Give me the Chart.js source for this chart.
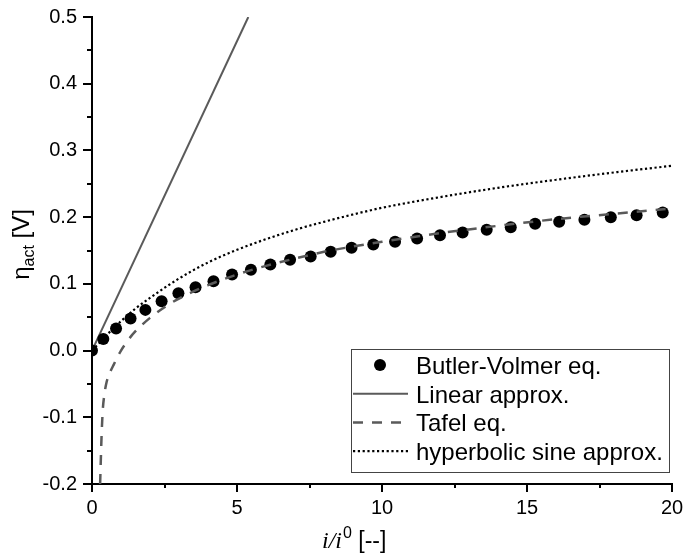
<!DOCTYPE html>
<html>
<head>
<meta charset="utf-8">
<script src="https://cdn.jsdelivr.net/npm/chart.js@4"></script>
<style>
  html, body { margin: 0; padding: 0; background: #fff; }
  #wrap { width: 683px; height: 557px; }
</style>
</head>
<body>
<div id="wrap"><canvas id="etaChart" width="683" height="557"></canvas></div>
<script>
// Activation overpotential vs. normalised current density i/i0

// Butler-Volmer (full equation), markers
const bvX = [0, 0.39, 0.83, 1.33, 1.84, 2.40, 2.98, 3.57, 4.19, 4.83, 5.48, 6.15, 6.83, 7.54, 8.23,
             8.95, 9.70, 10.45, 11.21, 12.0, 12.78, 13.61, 14.44, 15.28, 16.11, 16.98, 17.89, 18.78, 19.68];
const bvY = [0, 0.0175, 0.033, 0.048, 0.061, 0.074, 0.086, 0.095, 0.104, 0.114, 0.121, 0.129, 0.136, 0.141, 0.148,
             0.154, 0.159, 0.163, 0.168, 0.173, 0.177, 0.181, 0.185, 0.190, 0.193, 0.196, 0.200, 0.203, 0.207];

// low-field linear approximation
const linX = [0, 5.39];
const linY = [0, 0.5];

// Tafel equation
const tafelX = [0.28, 0.30, 0.33, 0.37, 0.42, 0.5, 0.6, 0.75, 1, 1.25, 1.5, 2, 2.5, 3, 4, 5,
                6, 7, 8, 9, 10, 12, 14, 16, 18, 20];
const tafelY = [-0.2, -0.17, -0.128, -0.09, -0.068, -0.048, -0.035, -0.021, 0.0, 0.016, 0.029, 0.049, 0.065, 0.078, 0.098, 0.114,
                0.127, 0.138, 0.148, 0.156, 0.163, 0.176, 0.187, 0.197, 0.205, 0.213];

// hyperbolic sine approximation
const sinhX = [0, 0.25, 0.5, 1, 1.5, 2, 3, 4, 5, 6, 7, 8, 9, 10, 12, 14, 16, 18, 20];
const sinhY = [0, 0.0115, 0.023, 0.044, 0.063, 0.079, 0.108, 0.132, 0.151, 0.167, 0.181, 0.193, 0.204, 0.214,
               0.230, 0.244, 0.256, 0.267, 0.277];

// axis ticks
const xMajorTicks = [0, 5, 10, 15, 20];
const xMinorTicks = [2.5, 7.5, 12.5, 17.5];
const yMajorTicks = [-0.2, -0.1, 0.0, 0.1, 0.2, 0.3, 0.4, 0.5];
const yMinorTicks = [-0.15, -0.05, 0.05, 0.15, 0.25, 0.35, 0.45];

const seriesNames = ['Butler-Volmer eq.', 'Linear approx.', 'Tafel eq.', 'hyperbolic sine approx.'];

const SANS = '"Liberation Sans", Arial, sans-serif';
const SERIF = '"Liberation Serif", "Times New Roman", serif';

const pts = (xs, ys) => xs.map((x, i) => ({ x: x, y: ys[i] }));

// tick marks (major + minor) drawn outside the plot area
const tickMarks = {
  id: 'tickMarks',
  afterDraw(chart) {
    const { ctx, chartArea: a, scales } = chart;
    ctx.save();
    ctx.strokeStyle = '#000';
    ctx.lineWidth = 2;
    ctx.beginPath();
    const xt = (v, len) => {
      const px = Math.round(scales.x.getPixelForValue(v));
      ctx.moveTo(px, a.bottom); ctx.lineTo(px, a.bottom + len);
    };
    const yt = (v, len) => {
      const py = Math.round(scales.y.getPixelForValue(v));
      ctx.moveTo(a.left, py); ctx.lineTo(a.left - len, py);
    };
    xMajorTicks.forEach(v => xt(v, 8));
    xMinorTicks.forEach(v => xt(v, 4));
    yMajorTicks.forEach(v => yt(v, 9));
    yMinorTicks.forEach(v => yt(v, 5));
    ctx.stroke();
    ctx.restore();
  }
};

// axis titles with sub/superscripts
const axisTitles = {
  id: 'axisTitles',
  afterDraw(chart) {
    const { ctx, chartArea: a } = chart;
    ctx.save();
    ctx.fillStyle = '#000';
    ctx.textBaseline = 'alphabetic';
    ctx.textAlign = 'left';

    // x: i/i0 [--]
    let px = a.left + 230;
    const py = a.bottom + 64;
    ctx.font = 'italic 24px ' + SERIF;
    ctx.fillText('i/i', px, py);
    px += ctx.measureText('i/i').width + 1;
    ctx.font = '16px ' + SANS;
    ctx.fillText('0', px, py - 10);
    px += ctx.measureText('0').width;
    ctx.font = '23px ' + SANS;
    ctx.fillText(' [--]', px, py);

    // y: eta_act [V], rotated
    ctx.translate(29, (a.top + a.bottom) / 2 - 6);
    ctx.rotate(-Math.PI / 2);
    ctx.font = '24px ' + SANS;
    const w1 = ctx.measureText('\u03b7').width;
    const w3 = ctx.measureText(' [V]').width;
    ctx.font = '16px ' + SANS;
    const w2 = ctx.measureText('act').width;
    let tx = -(w1 + w2 + w3) / 2;
    ctx.font = '24px ' + SANS;
    ctx.fillText('\u03b7', tx, 0);
    tx += w1;
    ctx.font = '16px ' + SANS;
    ctx.fillText('act', tx, 5);
    tx += w2;
    ctx.font = '24px ' + SANS;
    ctx.fillText(' [V]', tx, 0);
    ctx.restore();
  }
};

// boxed legend in the lower right corner of the plot
const boxLegend = {
  id: 'boxLegend',
  afterDraw(chart) {
    const { ctx, chartArea: a } = chart;
    const w = 318, h = 123;
    const bx = a.right - 3 - w, by = a.bottom - 12 - h;
    ctx.save();
    ctx.fillStyle = '#fff';
    ctx.fillRect(bx, by, w, h);
    ctx.strokeStyle = '#444';
    ctx.lineWidth = 1;
    ctx.strokeRect(bx + 0.5, by + 0.5, w, h);

    chart.data.datasets.forEach((ds, i) => {
      const base = by + 25 + i * 28.7;
      const mid = base - 9;
      if (ds.showLine === false) {
        ctx.fillStyle = ds.pointBackgroundColor;
        ctx.beginPath();
        ctx.arc(bx + 29, mid, ds.pointRadius, 0, Math.PI * 2);
        ctx.fill();
      } else {
        ctx.strokeStyle = ds.borderColor;
        ctx.lineWidth = ds.borderWidth;
        ctx.setLineDash(ds.borderDash || []);
        ctx.beginPath();
        ctx.moveTo(bx + 2, mid);
        ctx.lineTo(bx + 57, mid);
        ctx.stroke();
        ctx.setLineDash([]);
      }
      ctx.fillStyle = '#000';
      ctx.font = '24px ' + SANS;
      ctx.textBaseline = 'alphabetic';
      ctx.fillText(ds.label, bx + 65, base);
    });
    ctx.restore();
  }
};

const ctx = document.getElementById('etaChart').getContext('2d');
new Chart(ctx, {
  type: 'scatter',
  data: {
    datasets: [
      {
        label: seriesNames[0],
        data: pts(bvX, bvY),
        showLine: false,
        pointRadius: 6,
        pointBackgroundColor: '#000',
        pointBorderWidth: 0,
        order: 2
      },
      {
        label: seriesNames[1],
        data: pts(linX, linY),
        showLine: true,
        borderColor: '#5a5a5a',
        borderWidth: 2,
        pointRadius: 0,
        order: 3
      },
      {
        label: seriesNames[2],
        data: pts(tafelX, tafelY),
        showLine: true,
        borderColor: '#5a5a5a',
        borderWidth: 2.5,
        borderDash: [10, 9],
        pointRadius: 0,
        cubicInterpolationMode: 'monotone',
        order: 1
      },
      {
        label: seriesNames[3],
        data: pts(sinhX, sinhY),
        showLine: true,
        borderColor: '#000',
        borderWidth: 2.2,
        borderDash: [2.2, 2.6],
        pointRadius: 0,
        cubicInterpolationMode: 'monotone',
        order: 4
      }
    ]
  },
  options: {
    responsive: false,
    animation: false,
    devicePixelRatio: 1,
    layout: { padding: { top: 17, right: 11, left: 0, bottom: 0 } },
    plugins: {
      legend: { display: false },
      tooltip: { enabled: false }
    },
    scales: {
      x: {
        type: 'linear',
        min: 0,
        max: 20,
        grid: { display: false, drawTicks: false },
        border: { display: true, color: '#000', width: 2 },
        afterBuildTicks: s => { s.ticks = xMajorTicks.map(v => ({ value: v })); },
        afterFit: s => { s.height = 73; s.paddingLeft = 0; s.paddingRight = 0; },
        ticks: {
          autoSkip: false,
          maxRotation: 0,
          padding: 12,
          color: '#000',
          font: { family: SANS, size: 20 },
          callback: v => String(v)
        }
      },
      y: {
        type: 'linear',
        min: -0.2,
        max: 0.5,
        grid: { display: false, drawTicks: false },
        border: { display: true, color: '#000', width: 2 },
        afterBuildTicks: s => { s.ticks = yMajorTicks.map(v => ({ value: v })); },
        afterFit: s => { s.width = 92; s.paddingTop = 0; s.paddingBottom = 0; },
        ticks: {
          autoSkip: false,
          padding: 15,
          color: '#000',
          font: { family: SANS, size: 20 },
          callback: v => (Math.abs(v) < 1e-9 ? 0 : v).toFixed(1)
        }
      }
    }
  },
  plugins: [tickMarks, axisTitles, boxLegend]
});
</script>
</body>
</html>
